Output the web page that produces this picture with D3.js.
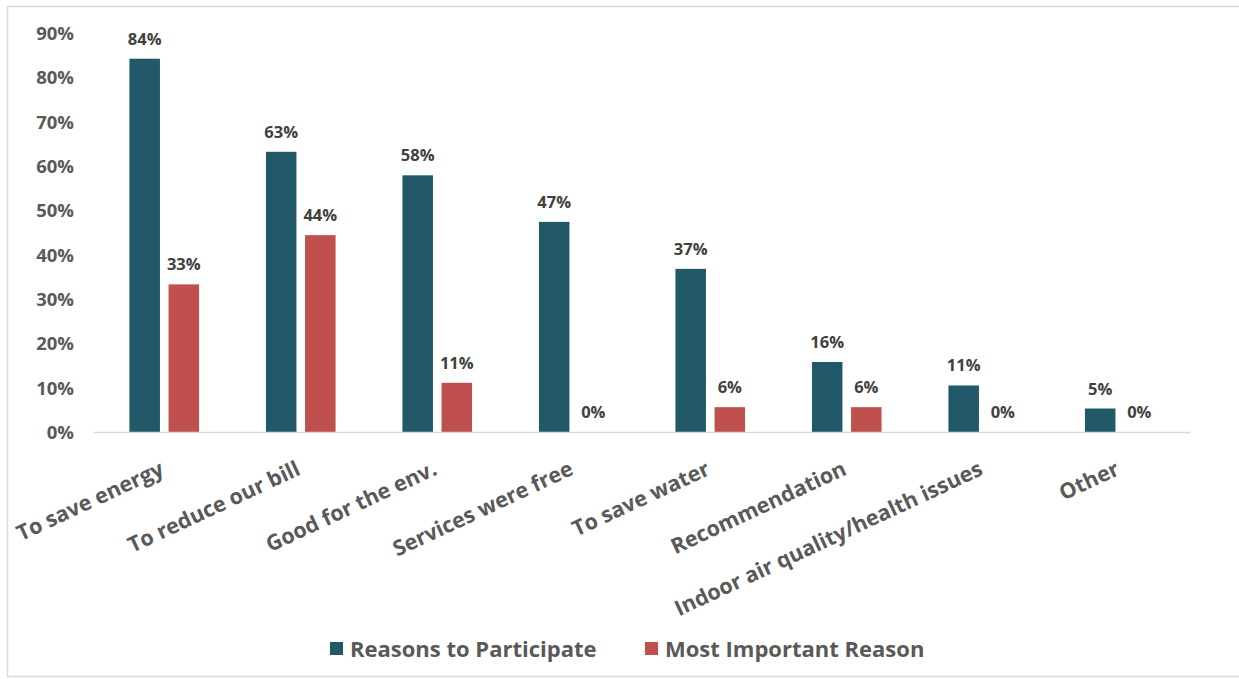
<!DOCTYPE html>
<html>
<head>
<meta charset="utf-8">
<script src="https://cdn.jsdelivr.net/npm/d3@7"></script>
<style>
  html, body { margin: 0; padding: 0; background: #fff; }
  svg { display: block; font-family: "Open Sans", "Liberation Sans", sans-serif; }
</style>
</head>
<body>
<svg id="chart" width="1239" height="679"></svg>
<script>
const categories = ["To save energy", "To reduce our bill", "Good for the env.", "Services were free",
  "To save water", "Recommendation", "Indoor air quality/health issues", "Other"];
const seriesNames = ["Reasons to Participate", "Most Important Reason"];
const reasonsToParticipate = [84.2, 63.2, 57.9, 47.4, 36.8, 15.8, 10.5, 5.3];
const mostImportantReason = [33.3, 44.4, 11.1, 0, 5.6, 5.6, 0, 0];
const yTicks = [0, 10, 20, 30, 40, 50, 60, 70, 80, 90];
const colors = ["#215968", "#C0504D"];

const svg = d3.select("#chart");
const W = 1239, H = 679;

// outer frame
svg.append("rect").attr("x", 7.5).attr("y", 6.5).attr("width", W).attr("height", H - 9)
  .attr("fill", "none").attr("stroke", "#d9d9d9").attr("stroke-width", 1.5);

const plot = { left: 96, right: 1188, top: 33, bottom: 432 };

const x0 = d3.scaleBand().domain(categories).range([plot.left, plot.right])
  .paddingInner(0.49).paddingOuter(0.245);
const x1 = d3.scaleBand().domain(seriesNames).range([0, x0.bandwidth()]).paddingInner(0.22);
const y = d3.scaleLinear().domain([0, 90]).range([plot.bottom, plot.top]);

const data = categories.map((c, i) => ({
  cat: c,
  vals: [
    { s: seriesNames[0], v: reasonsToParticipate[i], c: colors[0] },
    { s: seriesNames[1], v: mostImportantReason[i], c: colors[1] }
  ]
}));

// y axis
const yAxis = d3.axisLeft(y).tickValues(yTicks).tickFormat(d => d + "%").tickSize(0).tickPadding(0);
const yg = svg.append("g").attr("transform", `translate(74,0)`).call(yAxis);
yg.select(".domain").remove();
yg.selectAll("text").attr("font-size", 18.5).attr("font-weight", 700).attr("fill", "#595959")
  .attr("font-family", "Open Sans, Liberation Sans, sans-serif").attr("dy", "0.35em");

// bars
const groups = svg.append("g").selectAll("g").data(data).join("g")
  .attr("transform", d => `translate(${x0(d.cat)},0)`);
groups.selectAll("rect").data(d => d.vals).join("rect")
  .attr("x", d => x1(d.s)).attr("width", x1.bandwidth())
  .attr("y", d => y(d.v)).attr("height", d => y(0) - y(d.v))
  .attr("fill", d => d.c);
groups.selectAll("text").data(d => d.vals).join("text")
  .attr("x", d => x1(d.s) + x1.bandwidth() / 2)
  .attr("y", d => y(d.v) - 14)
  .attr("text-anchor", "middle")
  .attr("font-size", 16.5).attr("font-weight", 700).attr("fill", "#404040")
  .text(d => Math.round(d.v) + "%");

// x axis
const xAxis = d3.axisBottom(x0).tickSize(0).tickPadding(0);
const xg = svg.append("g").attr("transform", `translate(0,${plot.bottom})`).call(xAxis);
xg.select(".domain").attr("stroke", "#d9d9d9").attr("stroke-width", 1.5)
  .attr("d", `M${plot.left - 2},0.5H${plot.right + 2}`);
xg.selectAll(".tick text")
  .attr("font-size", 21.5).attr("font-weight", 700).attr("fill", "#595959")
  .attr("font-family", "Open Sans, Liberation Sans, sans-serif")
  .attr("text-anchor", "end")
  .attr("y", 0).attr("dy", 0)
  .attr("transform", "translate(1,42) rotate(-25)");

// legend
const legend = svg.append("g").attr("transform", "translate(0,649)");
const legendX = [330, 645];
seriesNames.forEach((s, i) => {
  legend.append("rect").attr("x", legendX[i]).attr("y", -7).attr("width", 13).attr("height", 13).attr("fill", colors[i]);
  legend.append("text").attr("x", legendX[i] + 20).attr("y", 0).attr("dy", "0.35em")
    .attr("font-size", 22).attr("font-weight", 700).attr("fill", "#595959").text(s);
});
</script>
</body>
</html>
